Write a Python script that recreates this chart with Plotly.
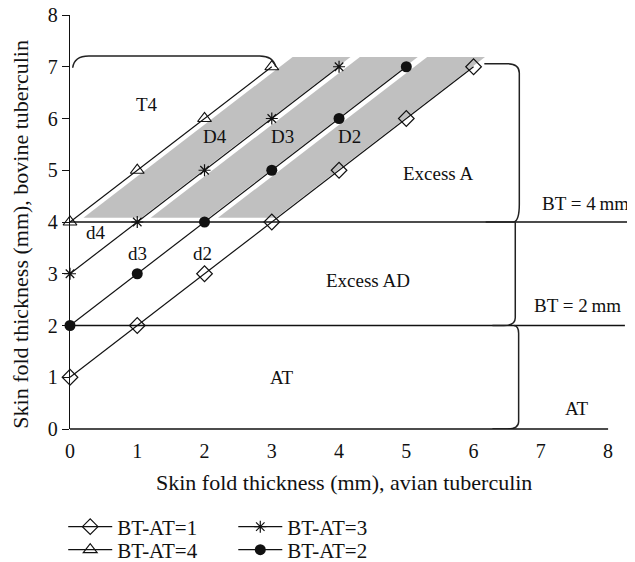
import plotly.graph_objects as go

# ---------------- data ----------------
at_values_1 = [0, 1, 2, 3, 4, 5, 6]
bt_values_1 = [1, 2, 3, 4, 5, 6, 7]
at_values_2 = [0, 1, 2, 3, 4, 5]
bt_values_2 = [2, 3, 4, 5, 6, 7]
at_values_3 = [0, 1, 2, 3, 4]
bt_values_3 = [3, 4, 5, 6, 7]
at_values_4 = [0, 1, 2, 3]
bt_values_4 = [4, 5, 6, 7]

series_names = ["BT-AT=1", "BT-AT=2", "BT-AT=3", "BT-AT=4"]

# shaded bands between consecutive BT-AT lines (upper offset, lower offset)
band_upper = [4, 3, 2]
band_lower = [3, 2, 1]
band_bottom = 4.08
band_top = 7.19

# thresholds (BT = 4 mm, BT = 2 mm)
bt_thresholds = [4, 2]
threshold_ends = [8.36, 8.25]

x_ticks = [0, 1, 2, 3, 4, 5, 6, 7, 8]
y_ticks = [0, 1, 2, 3, 4, 5, 6, 7, 8]

region_labels = ["T4", "D4", "D3", "D2", "Excess A", "BT = 4\u2009mm", "d4", "d3", "d2",
                 "Excess AD", "BT = 2\u2009mm", "AT", "AT"]
label_x = [1.14, 2.15, 3.16, 4.16, 5.47, 7.66, 0.39, 1.0, 1.97, 4.43, 7.54, 3.15, 7.54]
label_y = [6.27, 5.65, 5.65, 5.65, 4.94, 4.35, 3.79, 3.40, 3.40, 2.87, 2.38, 1.0, 0.40]

# ---------------- style ----------------
FONT = "Liberation Serif"
FS = 19
FS_TITLE = 22
FS_TICK = 20
FS_LEG = 21
BLACK = "#111111"
GREY = "#c0c0c0"
X_MAX = 8.4
LEFT_GAP = 0.12
RIGHT_GAP = 0.02

fig = go.Figure()

# bands
for hi, lo in zip(band_upper, band_lower):
    c_left = hi - LEFT_GAP
    c_right = lo + RIGHT_GAP
    xs = [band_bottom - c_left, band_top - c_left, band_top - c_right, band_bottom - c_right]
    ys = [band_bottom, band_top, band_top, band_bottom]
    fig.add_trace(go.Scatter(x=xs, y=ys, fill="toself", fillcolor=GREY, mode="none",
                             hoverinfo="skip", showlegend=False))

# threshold lines
for yv, xe in zip(bt_thresholds, threshold_ends):
    fig.add_trace(go.Scatter(x=[0, xe], y=[yv, yv], mode="lines",
                             line=dict(color=BLACK, width=1.3), showlegend=False,
                             hoverinfo="skip"))

series = [
    (at_values_1, bt_values_1, series_names[0], dict(symbol="diamond-open", size=12,
                                                      color=BLACK, line=dict(width=1.2, color=BLACK)), "legend"),
    (at_values_3, bt_values_3, series_names[2], dict(symbol="asterisk-open", size=10,
                                                      color=BLACK, line=dict(width=1.2, color=BLACK)), "legend2"),
    (at_values_4, bt_values_4, series_names[3], dict(symbol="triangle-up-open", size=12,
                                                      color=BLACK, line=dict(width=1.2, color=BLACK)), "legend3"),
    (at_values_2, bt_values_2, series_names[1], dict(symbol="circle", size=11,
                                                      color=BLACK, line=dict(width=0, color=BLACK)), "legend4"),
]
for xs, ys, name, mk, lg in series:
    fig.add_trace(go.Scatter(x=xs, y=ys, name=name, mode="lines+markers",
                             line=dict(color=BLACK, width=1.2), marker=mk,
                             cliponaxis=False, legend=lg))

# braces
brace_style = dict(color="#222222", width=1.5)
shapes = [
    dict(type="path", xref="x", yref="y",
         path="M 0.04,6.98 Q 0.06,7.21 0.28,7.21 L 2.82,7.21 Q 3.02,7.21 3.06,7.0",
         line=brace_style),
    dict(type="path", xref="x", yref="y",
         path="M 6.16,7.06 L 6.5,7.06 Q 6.68,7.06 6.68,6.88 L 6.68,4.35 Q 6.68,4.03 6.6,4.0 L 6.18,4.0",
         line=brace_style),
    dict(type="path", xref="x", yref="y",
         path="M 6.62,4.0 L 6.62,2.15 Q 6.62,2.0 6.45,2.0 L 6.28,2.0",
         line=brace_style),
    dict(type="path", xref="x", yref="y",
         path="M 6.6,2.0 Q 6.67,1.99 6.67,1.85 L 6.67,0.14 Q 6.67,0.0 6.5,0.0 L 6.28,0.0",
         line=brace_style),
    # x axis line (0..8)
    dict(type="line", xref="paper", yref="paper", x0=0, x1=x_ticks[-1] / X_MAX, y0=0, y1=0,
         line=dict(color=BLACK, width=1.3)),
]

annotations = []
for t, xv, yv in zip(region_labels, label_x, label_y):
    annotations.append(dict(x=xv, y=yv, xref="x", yref="y", text=t, showarrow=False,
                            font=dict(family=FONT, size=FS, color=BLACK)))

annotations.append(dict(x=4.08, y=-0.1304, xref="x", yref="paper", yanchor="middle",
                        text="Skin fold thickness (mm), avian tuberculin", showarrow=False,
                        font=dict(family=FONT, size=FS_TITLE, color=BLACK)))
annotations.append(dict(x=-0.088, y=0.47, xref="paper", yref="paper", textangle=-90,
                        text="Skin fold thickness (mm), bovine tuberculin", showarrow=False,
                        xanchor="center", yanchor="middle",
                        font=dict(family=FONT, size=FS_TITLE, color=BLACK)))

leg_common = dict(bgcolor="rgba(0,0,0,0)", borderwidth=0, xanchor="left", yanchor="middle",
                  font=dict(family=FONT, size=FS_LEG, color=BLACK), itemwidth=44)

# the page places the figure 8px in from the top-left corner of the window
fig.update_layout(
    width=627, height=554,
    margin=dict(l=62, r=0, t=7, b=133, autoexpand=False),
    plot_bgcolor="white", paper_bgcolor="white",
    font=dict(family=FONT, size=FS, color=BLACK),
    shapes=shapes,
    annotations=annotations,
    legend=dict(x=-0.012, y=-0.2367, **leg_common),
    legend2=dict(x=0.289, y=-0.2367, **leg_common),
    legend3=dict(x=-0.012, y=-0.2923, **leg_common),
    legend4=dict(x=0.289, y=-0.2923, **leg_common),
    xaxis=dict(range=[0, X_MAX], tickvals=x_ticks, showline=False, zeroline=False,
               showgrid=False, ticks="", ticklabelstandoff=8, automargin=False,
               ticklabeloverflow="allow",
               tickfont=dict(family=FONT, size=FS_TICK, color=BLACK)),
    yaxis=dict(range=[0, 8], tickvals=y_ticks, showline=True, linecolor=BLACK, linewidth=1.3,
               zeroline=False, showgrid=False, ticks="outside", ticklen=7, tickcolor=BLACK,
               tickwidth=1.2, automargin=False, ticklabeloverflow="allow",
               tickfont=dict(family=FONT, size=FS_TICK, color=BLACK)),
)

fig.write_html("out.html")
